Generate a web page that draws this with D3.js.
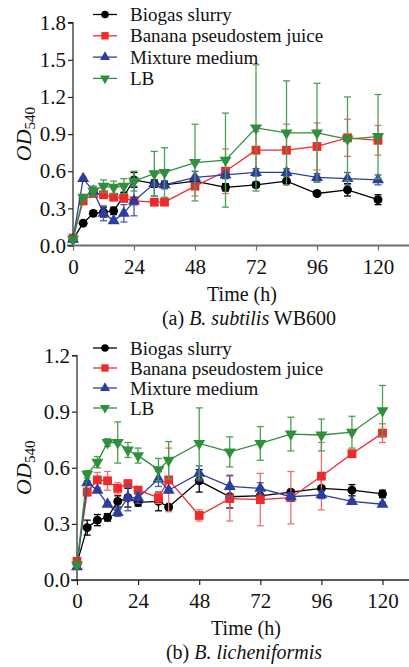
<!DOCTYPE html>
<html>
<head>
<meta charset="utf-8">
<script src="https://cdn.jsdelivr.net/npm/d3@7"></script>
<style>
  html, body { margin: 0; padding: 0; background: #fff; }
  svg { display: block; font-family: "Liberation Serif", "Times New Roman", serif; }
</style>
</head>
<body>
<svg id="chart" width="409" height="667"></svg>
<script>
// ---------------- data ----------------
const times = [0, 4, 8, 12, 16, 20, 24, 32, 36, 48, 60, 72, 84, 96, 108, 120];
const seriesNames = ["Biogas slurry", "Banana pseudostem juice", "Mixture medium", "LB"];
const xTicks = [0, 24, 48, 72, 96, 120];
const yTicksA = [0.0, 0.3, 0.6, 0.9, 1.2, 1.5, 1.8];
const yTicksB = [0.0, 0.3, 0.6, 0.9, 1.2];

// (a) B. subtilis WB600
const aBiogas    = [0.05, 0.18, 0.26, 0.27, 0.28, 0.40, 0.53, 0.50, 0.49, 0.52, 0.47, 0.49, 0.52, 0.42, 0.45, 0.37];
const aBiogasErr = [0.01, 0.01, 0.02, 0.04, 0.03, 0.03, 0.06, 0.03, 0.03, 0.03, 0.03, 0.02, 0.02, 0.01, 0.05, 0.04];
const aBanana    = [0.06, 0.36, 0.42, 0.41, 0.39, 0.38, 0.36, 0.35, 0.35, 0.48, 0.60, 0.77, 0.77, 0.80, 0.87, 0.85];
const aBananaErr = [0.02, 0.02, 0.02, 0.02, 0.02, 0.02, 0.03, 0.02, 0.02, 0.08, 0.18, 0.15, 0.21, 0.19, 0.15, 0.12];
const aMixture   = [0.05, 0.54, 0.44, 0.26, 0.20, 0.26, 0.36, 0.50, 0.49, 0.55, 0.57, 0.59, 0.59, 0.55, 0.54, 0.53];
const aMixtureErr= [0.01, 0.01, 0.03, 0.06, 0.02, 0.07, 0.12, 0.10, 0.03, 0.05, 0.03, 0.03, 0.03, 0.03, 0.05, 0.04];
const aLB        = [0.05, 0.39, 0.44, 0.48, 0.47, 0.48, 0.52, 0.58, 0.59, 0.67, 0.69, 0.95, 0.91, 0.91, 0.86, 0.88];
const aLBErr     = [0.01, 0.02, 0.04, 0.05, 0.05, 0.06, 0.08, 0.18, 0.20, 0.31, 0.38, 0.51, 0.42, 0.40, 0.34, 0.34];

// (b) B. licheniformis
const bBiogas    = [0.09, 0.28, 0.32, 0.335, 0.42, 0.44, 0.415, 0.42, 0.39, 0.53, 0.445, 0.45, 0.47, 0.49, 0.48, 0.46];
const bBiogasErr = [0.01, 0.04, 0.03, 0.02, 0.03, 0.05, 0.02, 0.05, 0.01, 0.06, 0.06, 0.01, 0.01, 0.05, 0.03, 0.02];
const bBanana    = [0.10, 0.47, 0.535, 0.53, 0.49, 0.515, 0.48, 0.44, 0.535, 0.345, 0.435, 0.43, 0.44, 0.555, 0.675, 0.785];
const bBananaErr = [0.01, 0.02, 0.04, 0.05, 0.03, 0.02, 0.02, 0.03, 0.17, 0.03, 0.12, 0.14, 0.14, 0.18, 0.01, 0.05];
const bMixture   = [0.07, 0.52, 0.48, 0.405, 0.36, 0.44, 0.44, 0.54, 0.48, 0.57, 0.50, 0.49, 0.445, 0.455, 0.42, 0.405];
const bMixtureErr= [0.01, 0.01, 0.01, 0.01, 0.02, 0.07, 0.03, 0.04, 0.01, 0.04, 0.06, 0.03, 0.02, 0.02, 0.01, 0.01];
const bLB        = [0.08, 0.565, 0.63, 0.735, 0.735, 0.695, 0.665, 0.59, 0.64, 0.73, 0.685, 0.73, 0.78, 0.775, 0.79, 0.905];
const bLBErr     = [0.01, 0.02, 0.03, 0.02, 0.11, 0.04, 0.04, 0.06, 0.10, 0.19, 0.08, 0.09, 0.09, 0.085, 0.085, 0.135];

// ---------------- styles ----------------
const colors = ["#000000", "#ee2b2b", "#2d3d9e", "#2f8f3c"];
const errColors = ["#000000", "#f07070", "#4a5ab0", "#4aa055"];
const symbolTypes = [d3.symbolCircle, d3.symbolSquare, d3.symbolTriangle, d3.symbolTriangle];
const symbolRot = [0, 0, 0, 180];
const symbolSizes = [62, 78, 62, 62];
const FONT = "Liberation Serif, Times New Roman, serif";

const svg = d3.select("#chart");

function drawPanel(cfg) {
  const x = d3.scaleLinear().domain([0, 132]).range([cfg.x0, cfg.x0 + 132 * cfg.pxPerHour]);
  const y = d3.scaleLinear().domain([0, cfg.yMax]).range([cfg.yBottom, cfg.yTop]);
  const g = svg.append("g");

  // x axis
  const xAxis = g.append("g").attr("transform", `translate(0,${cfg.yBottom})`)
    .call(d3.axisBottom(x).tickValues(xTicks).tickSize(5).tickPadding(cfg.xPad).tickFormat(d3.format("d")));
  xAxis.attr("font-family", FONT);
  xAxis.select(".domain").attr("d", `M${cfg.x0 - 6},0H409`)
    .attr("stroke", cfg.xAxisColor).attr("stroke-width", cfg.xAxisWidth);
  xAxis.selectAll(".tick line").attr("stroke", cfg.xAxisColor).attr("stroke-width", 1.2);
  xAxis.selectAll(".tick text").attr("font-size", 21).attr("fill", "#111");

  // y axis
  const yAxis = g.append("g").attr("transform", `translate(${cfg.x0},0)`)
    .call(d3.axisLeft(y).tickValues(cfg.yTicks).tickSize(5).tickPadding(2).tickFormat(d3.format(".1f")));
  yAxis.attr("font-family", FONT);
  yAxis.select(".domain").attr("d", `M0,${cfg.yBottom}V${cfg.yTop}H-5`)
    .attr("stroke", "#222").attr("stroke-width", 1.2);
  yAxis.selectAll(".tick line").attr("stroke", "#222").attr("stroke-width", 1.2);
  yAxis.selectAll(".tick text").attr("font-size", 21).attr("fill", "#111");

  // y label
  const yl = g.append("text")
    .attr("transform", `translate(${cfg.yLabelX},${(cfg.yTop + cfg.yBottom) / 2}) rotate(-90)`)
    .attr("text-anchor", "middle").attr("font-size", 22).attr("fill", "#111");
  yl.append("tspan").attr("font-style", "italic").text("OD");
  yl.append("tspan").attr("font-size", 15).attr("dy", 4).text("540");

  // x label
  g.append("text").attr("x", cfg.timeX).attr("y", cfg.yBottom + 55)
    .attr("text-anchor", "middle").attr("font-size", 20).attr("fill", "#111").text("Time (h)");

  // caption
  const cap = g.append("text").attr("x", cfg.capX).attr("y", cfg.yBottom + 79)
    .attr("text-anchor", "middle").attr("font-size", 20).attr("fill", "#111");
  cap.append("tspan").text(cfg.capPre);
  cap.append("tspan").attr("font-style", "italic").text(cfg.capItalic);
  cap.append("tspan").text(cfg.capPost);

  // series
  const line = d3.line().x(d => x(d.t)).y(d => y(d.v));
  cfg.series.forEach((s, i) => {
    const data = times.map((t, k) => ({ t, v: s.vals[k], e: s.errs[k] }));
    const sg = g.append("g");
    const eb = sg.selectAll("g.eb").data(data).enter().append("g")
      .attr("stroke", errColors[i]).attr("stroke-width", 1.3);
    eb.append("line").attr("x1", d => x(d.t)).attr("x2", d => x(d.t))
      .attr("y1", d => y(d.v - d.e)).attr("y2", d => y(d.v + d.e));
    eb.append("line").attr("x1", d => x(d.t) - 3.5).attr("x2", d => x(d.t) + 3.5)
      .attr("y1", d => y(d.v + d.e)).attr("y2", d => y(d.v + d.e));
    eb.append("line").attr("x1", d => x(d.t) - 3.5).attr("x2", d => x(d.t) + 3.5)
      .attr("y1", d => y(d.v - d.e)).attr("y2", d => y(d.v - d.e));
    sg.append("path").datum(data).attr("d", line).attr("fill", "none")
      .attr("stroke", colors[i]).attr("stroke-width", 1.3);
    sg.selectAll("path.m").data(data).enter().append("path")
      .attr("d", d3.symbol().type(symbolTypes[i]).size(symbolSizes[i]))
      .attr("transform", d => `translate(${x(d.t)},${y(d.v)}) rotate(${symbolRot[i]})`)
      .attr("fill", colors[i]);
  });

  // legend
  seriesNames.forEach((name, i) => {
    const ly = cfg.legendY + i * cfg.legendStep;
    g.append("line").attr("x1", 93).attr("x2", 117).attr("y1", ly).attr("y2", ly)
      .attr("stroke", colors[i]).attr("stroke-width", 1.3);
    g.append("path").attr("d", d3.symbol().type(symbolTypes[i]).size(symbolSizes[i] * 0.7))
      .attr("transform", `translate(105,${ly}) rotate(${symbolRot[i]})`).attr("fill", colors[i]);
    g.append("text").attr("x", 130).attr("y", ly).attr("dy", "0.35em")
      .attr("font-size", 19).attr("fill", "#111").text(name);
  });
}

drawPanel({
  x0: 73, pxPerHour: 61 / 24, yTop: 22.7, yBottom: 245.5, yMax: 1.8, yTicks: yTicksA,
  xAxisColor: "#6e6e6e", xAxisWidth: 2, xPad: 9, yLabelX: 31, timeX: 242, capX: 249,
  capPre: "(a) ", capItalic: "B. subtilis", capPost: " WB600",
  legendY: 14.5, legendStep: 21.3,
  series: [
    { vals: aBiogas, errs: aBiogasErr },
    { vals: aBanana, errs: aBananaErr },
    { vals: aMixture, errs: aMixtureErr },
    { vals: aLB, errs: aLBErr }
  ]
});

drawPanel({
  x0: 77, pxPerHour: 61.1 / 24, yTop: 355.5, yBottom: 580, yMax: 1.2, yTicks: yTicksB,
  xAxisColor: "#222", xAxisWidth: 1.4, xPad: 8, yLabelX: 31, timeX: 246, capX: 244,
  capPre: "(b) ", capItalic: "B. licheniformis", capPost: "",
  legendY: 348, legendStep: 20,
  series: [
    { vals: bBiogas, errs: bBiogasErr },
    { vals: bBanana, errs: bBananaErr },
    { vals: bMixture, errs: bMixtureErr },
    { vals: bLB, errs: bLBErr }
  ]
});
</script>
</body>
</html>
